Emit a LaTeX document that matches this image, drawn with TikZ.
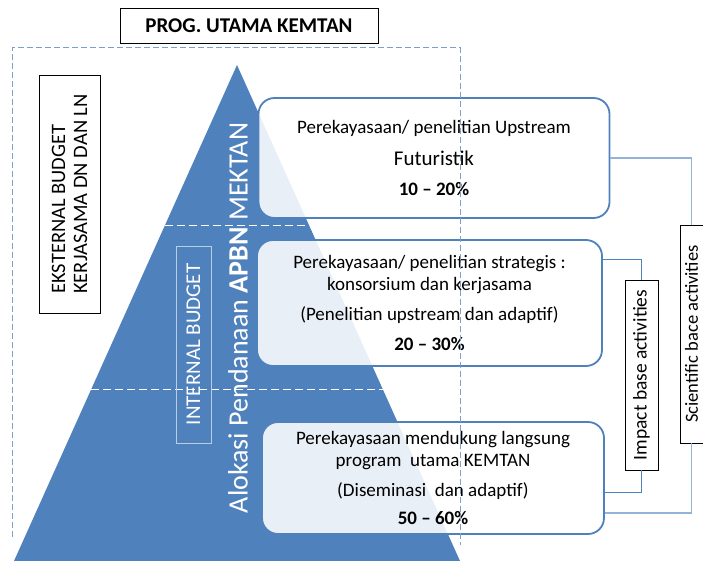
\documentclass[tikz,border=0pt]{standalone}
\usepackage{fontspec}
\setmainfont{Carlito}
\usepackage{tikz}
\definecolor{pyrblue}{HTML}{4F81BD}
\definecolor{frameblue}{HTML}{7BA0CD}
\definecolor{lightlink}{HTML}{95B3D7}
\definecolor{softline}{HTML}{B9CDE5}

\begin{document}
\begin{tikzpicture}[x=1pt,y=-1pt,
            tier node/.style={draw=pyrblue,line width=1.8pt,rounded corners=16pt,fill=white,fill opacity=0.88,text opacity=1,align=center,inner sep=0pt,font=\fontsize{19}{22}\selectfont},
            label node/.style={draw=black,line width=0.8pt,fill=white,inner sep=0pt},
            side node/.style={label node,rotate=90,font=\fontsize{19.5}{22}\selectfont},
            impact link/.style={draw=pyrblue,line width=0.9pt},
            science link/.style={draw=lightlink,line width=1.1pt},
            ]
            \useasboundingbox (0,0) rectangle (703,561);

            \fill[pyrblue] (237,65) -- (460,561) -- (14,561) -- cycle;
            \draw[white,dash pattern=on 8pt off 4pt,line width=0.8pt] (165,225) -- (309,225);
            \draw[white,dash pattern=on 8pt off 4pt,line width=0.8pt] (91,389) -- (383,389);

            \node[draw=softline,line width=0.8pt,rotate=90,minimum width=197pt,minimum height=35pt,inner sep=0pt,text=white,font=\fontsize{21}{24}\selectfont] (intern) at (193.5,344.5) {INTERNAL BUDGET};
            \node[rotate=90,text=white,font=\fontsize{28}{32}\selectfont] (alokasi) at (238,318) {Alokasi Pendanaan \textbf{APBN} MEKTAN};

            \node[tier node,minimum width=351pt,minimum height=120pt] (t1) at (434,158) {Perekayasaan/ penelitian Upstream\\[10pt]{\fontsize{21}{24}\selectfont Futuristik}\\[8pt]\textbf{10 -- 20\%}};
            \node[tier node,minimum width=345pt,minimum height=126pt] (t2) at (429.5,303) {Perekayasaan/ penelitian strategis :\\konsorsium dan kerjasama\\[8pt](Penelitian upstream dan adaptif)\\[8pt]\textbf{20 -- 30\%}};
            \node[tier node,minimum width=342pt,minimum height=112pt] (t3) at (433,478) {Perekayasaan mendukung langsung\\program~ utama KEMTAN\\[8pt](Diseminasi~ dan adaptif)\\[6pt]\textbf{50 -- 60\%}};

            \draw[frameblue,dash pattern=on 6pt off 3pt,line width=1pt] (12,537) -- (12,48) -- (460,48) -- (460,545);

            \node[label node,minimum width=258pt,minimum height=35pt,font=\fontsize{21}{24}\selectfont\bfseries] (title) at (249,25.5) {PROG. UTAMA KEMTAN};
            \node[label node,rotate=90,minimum width=238pt,minimum height=61pt,align=left,font=\fontsize{20.5}{22}\selectfont] (ekst) at (69.5,194) {EKSTERNAL BUDGET\\KERJASAMA DN DAN LN};

            \node[side node,minimum width=190pt,minimum height=33pt] (impact) at (641.5,375) {Impact base activities};
            \node[side node,minimum width=218pt,minimum height=23pt,font=\fontsize{18.5}{21}\selectfont] (science) at (691.5,334) {Scientific bace activities};

            \draw[impact link] ([yshift=44pt]t2.east) -| (impact.east);
            \draw[impact link] (impact.west) |- ([yshift=-14pt]t3.east);
            \draw[science link] (t1.east) -| (science.east);
            \draw[science link] (science.west) |- ([yshift=-35pt]t3.east);
        \end{tikzpicture}
\end{document}
